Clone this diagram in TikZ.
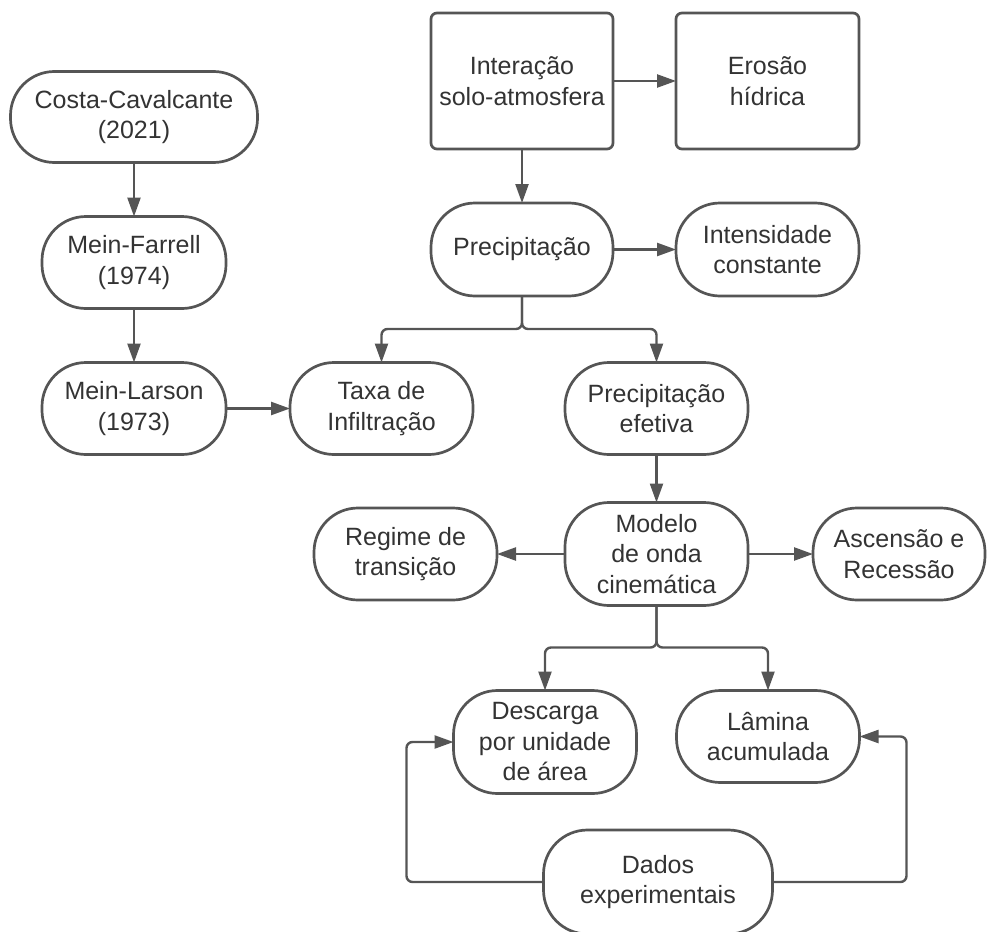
\documentclass[tikz,border=0pt]{standalone}
\usepackage{fontspec}
\setmainfont{Liberation Sans}
\usetikzlibrary{arrows.meta,positioning}
\definecolor{edgegray}{HTML}{555555}
\definecolor{inkgray}{HTML}{333333}

\begin{document}
\begin{tikzpicture}[
  x=1pt, y=1pt,
  font=\fontsize{25}{30.5}\selectfont,
  pill/.style={draw=edgegray, line width=2.7pt, rounded corners=44pt, align=center, text=inkgray,
    minimum width=183pt, minimum height=92pt, inner sep=2pt, outer sep=0pt},
  block/.style={draw=edgegray, line width=2.7pt, rounded corners=6pt, align=center, text=inkgray,
    minimum width=183pt, minimum height=136pt, inner sep=2pt, outer sep=0pt},
  arrow/.style={-{Triangle[length=19pt,width=13pt]}, line width=2.4pt, draw=edgegray, rounded corners=6pt}
]
\useasboundingbox (0,0) rectangle (987,-931);

\node[pill, minimum width=247pt, minimum height=91pt] (costa) at (134,-117) {Costa-Cavalcante\\(2021)};
\node[pill, minimum width=184pt, below=54pt of costa] (farrell) {Mein-Farrell\\(1974)};
\node[pill, minimum width=184pt, below=54pt of farrell] (larson) {Mein-Larson\\(1973)};
\node[pill, right=64pt of larson] (taxa) {Taxa de\\Infiltração};

\node[block, minimum width=182pt] (interacao) at (522,-81) {Interação\\solo-atmosfera};
\node[block, right=63pt of interacao] (erosao) {Erosão\\hídrica};
\node[pill, minimum width=182pt, minimum height=93pt, below=54pt of interacao] (precip) {Precipitação};
\node[pill, minimum height=93pt, right=63pt of precip] (intensidade) {Intensidade\\constante};

\node[pill, right=92pt of taxa] (efetiva) {Precipitação\\efetiva};
\node[pill, minimum height=103pt, below=48pt of efetiva] (modelo) {Modelo\\de onda\\cinemática};
\node[pill, left=68pt of modelo] (regime) {Regime de\\transição};
\node[pill, minimum width=172pt, right=65pt of modelo] (ascensao) {Ascensão e\\Recessão};

\node[pill, minimum height=103pt] (descarga) at (545,-742) {Descarga\\por unidade\\de área};
\node[pill, right=40pt of descarga.north east, anchor=north west] (lamina) {Lâmina\\acumulada};
\node[pill, minimum width=229pt, minimum height=104pt] (dados) at (658,-882) {Dados\\experimentais};

\draw[arrow] (costa) -- (farrell);
\draw[arrow] (farrell) -- (larson);
\draw[arrow] (larson) -- (taxa);
\draw[arrow] (interacao) -- (erosao);
\draw[arrow] (interacao) -- (precip);
\draw[arrow] (precip) -- (intensidade);
\draw[arrow] (precip.south) -- ++(0,-33) -| (taxa.north);
\draw[arrow] (precip.south) -- ++(0,-33) -| (efetiva.north);
\draw[arrow] (efetiva) -- (modelo);
\draw[arrow] (modelo) -- (regime);
\draw[arrow] (modelo) -- (ascensao);
\draw[arrow] (modelo.south) -- ++(0,-42) -| (descarga.north);
\draw[arrow] (modelo.south) -- ++(0,-42) -| (lamina.north);
\draw[arrow] (dados.west) -- ++(-137,0) |- (descarga.west);
\draw[arrow] (dados.east) -- ++(134,0) |- (lamina.east);

\end{tikzpicture}
\end{document}
